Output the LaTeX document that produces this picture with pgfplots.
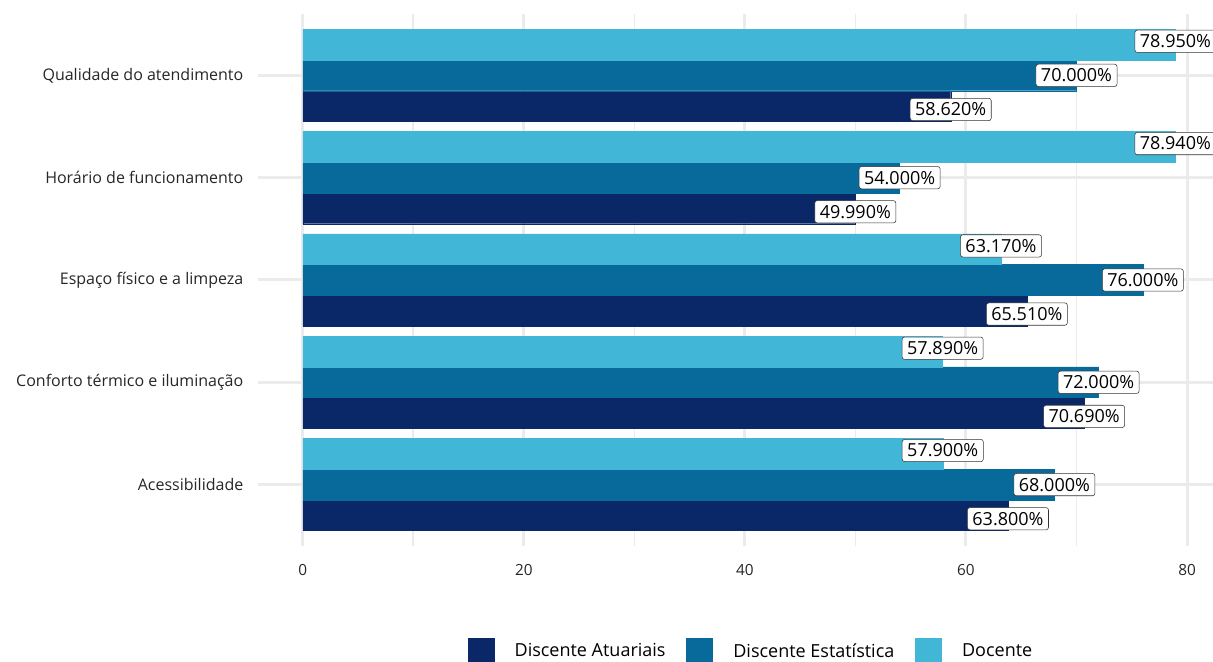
\documentclass[border=0pt]{standalone}
\usepackage{pgfplots}
\pgfplotsset{compat=1.18}
\usepackage{fontspec}
\setmainfont{Open Sans}
\definecolor{cAt}{HTML}{0A2868}
\definecolor{cEs}{HTML}{086A9A}
\definecolor{cDo}{HTML}{41B6D6}
\definecolor{gridc}{HTML}{EBEBEB}
\newlength{\px}\setlength{\px}{0.75pt}
\begin{document}
\begin{tikzpicture}
\begin{axis}[
  name=ax,
  scale only axis,
  width=955\px, height=532\px,
  xmin=-4.05, xmax=82.35,
  ymin=0.4, ymax=5.6,
  xtick={0,20,40,60,80},
  minor xtick={10,30,50,70},
  ytick={1,2,3,4,5},
  yticklabels={Acessibilidade,Conforto térmico e iluminação,Espaço físico e a limpeza,Horário de funcionamento,Qualidade do atendimento},
  xmajorgrids, ymajorgrids, xminorgrids,
  grid style={draw=gridc},
  major grid style={draw=gridc, line width=3\px},
  minor grid style={draw=gridc, line width=1.6\px},
  axis line style={draw=none},
  major tick length=0pt, minor tick length=0pt,
  tick style={draw=none},
  /pgf/number format/assume math mode=true,
  xticklabel style={font=\fontsize{11.5}{13}\selectfont, text=black!85},
  yticklabel style={font=\fontsize{12}{14}\selectfont, text=black!85},
  xticklabel shift=14\px,
  yticklabel shift=10\px,
  clip=false,
  legend style={at={(0.5165,-0.198)}, anchor=center, draw=none, fill=none,
    legend columns=3, font=\fontsize{13.5}{15}\selectfont,
    /tikz/every odd column/.append style={column sep=18\px},
    /tikz/every even column/.append style={column sep=18\px}},
  legend cell align=left,
  every node near coord/.append style={draw=black!80, fill=white, rounded corners=2.5\px,
     inner xsep=5\px, inner ysep=4.5\px, font=\fontsize{13.5}{15}\selectfont, anchor=center, text=black},
]
\addplot[xbar, bar width=0.3, bar shift=-0.3, fill=cAt, draw=cAt, line width=0.4\px, area legend,
  legend image code/.code={\fill[cAt] (0,-13\px) rectangle (26\px,13\px);}]
  coordinates {(63.80,1) (70.69,2) (65.51,3) (49.99,4) (58.62,5)};
\addlegendentry{Discente Atuariais}
\addplot[xbar, bar width=0.3, bar shift=0, fill=cEs, draw=cEs, line width=0.4\px, area legend,
  legend image code/.code={\fill[cEs] (0,-13\px) rectangle (26\px,13\px);}]
  coordinates {(68.00,1) (72.00,2) (76.00,3) (54.00,4) (70.00,5)};
\addlegendentry{Discente Estatística}
\addplot[xbar, bar width=0.3, bar shift=0.3, fill=cDo, draw=cDo, line width=0.4\px, area legend,
  legend image code/.code={\fill[cDo] (0,-13\px) rectangle (26\px,13\px);}]
  coordinates {(57.90,1) (57.89,2) (63.17,3) (78.94,4) (78.95,5)};
\addlegendentry{Docente}
% labels (dodged at width 1)
\pgfplotsset{lbl/.style={draw=none, mark=none, forget plot, point meta=x,
  nodes near coords={\pgfmathprintnumber[fixed,fixed zerofill,precision=3]{\pgfplotspointmeta}\%}}}
\addplot[lbl]
  coordinates {(63.80,0.6667) (70.69,1.6667) (65.51,2.6667) (49.99,3.6667) (58.62,4.6667)};
\addplot[lbl]
  coordinates {(68.00,1) (72.00,2) (76.00,3) (54.00,4) (70.00,5)};
\addplot[lbl]
  coordinates {(57.90,1.3333) (57.89,2.3333) (63.17,3.3333) (78.94,4.3333) (78.95,5.3333)};
\end{axis}
\pgfresetboundingbox
\useasboundingbox ([shift={(-258\px,-116\px)}]ax.south west) rectangle ([shift={(0,14\px)}]ax.north east);
\end{tikzpicture}
\end{document}
